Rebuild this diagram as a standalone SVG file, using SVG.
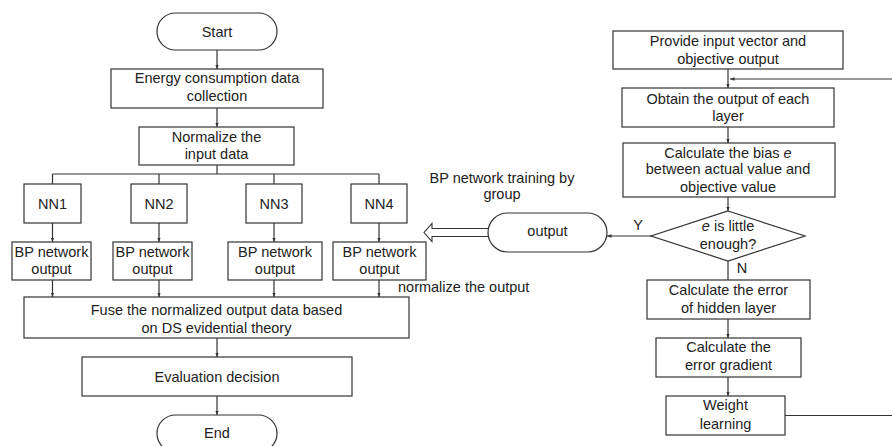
<svg xmlns="http://www.w3.org/2000/svg" width="892" height="446" viewBox="0 0 892 446">
<defs>
<style>
.box{fill:#fff;stroke:#333;stroke-width:1.2}
.ln{fill:none;stroke:#333;stroke-width:1.2}
text{font-family:"Liberation Sans",Arial,sans-serif;font-size:14.5px;fill:#222;text-anchor:middle}
.st{text-anchor:start}
</style>
<marker id="ah" viewBox="0 0 10 10" refX="10" refY="5" markerWidth="4.5" markerHeight="4.5" orient="auto" markerUnits="userSpaceOnUse">
<path d="M0,1 L10,5 L0,9 Z" fill="#333"/>
</marker>
</defs>
<rect width="892" height="446" fill="#fff"/>
<g id="connectors">
<line class="ln" x1="217" y1="50" x2="217" y2="69" marker-end="url(#ah)"/>
<line class="ln" x1="217" y1="108" x2="217" y2="127" marker-end="url(#ah)"/>
<line class="ln" x1="217" y1="165" x2="217" y2="174"/>
<line class="ln" x1="52.5" y1="174" x2="379" y2="174"/>
<line class="ln" x1="52.5" y1="174" x2="52.5" y2="184"/>
<line class="ln" x1="159" y1="174" x2="159" y2="184"/>
<line class="ln" x1="274" y1="174" x2="274" y2="184"/>
<line class="ln" x1="379" y1="174" x2="379" y2="184"/>
<line class="ln" x1="52.5" y1="223" x2="52.5" y2="242" marker-end="url(#ah)"/>
<line class="ln" x1="159" y1="223" x2="159" y2="242" marker-end="url(#ah)"/>
<line class="ln" x1="274" y1="223" x2="274" y2="242" marker-end="url(#ah)"/>
<line class="ln" x1="379" y1="223" x2="379" y2="242" marker-end="url(#ah)"/>
<line class="ln" x1="52.5" y1="280" x2="52.5" y2="297" marker-end="url(#ah)"/>
<line class="ln" x1="159" y1="280" x2="159" y2="297" marker-end="url(#ah)"/>
<line class="ln" x1="274" y1="280" x2="274" y2="297" marker-end="url(#ah)"/>
<line class="ln" x1="379" y1="280" x2="379" y2="297" marker-end="url(#ah)"/>
<line class="ln" x1="217" y1="338" x2="217" y2="357" marker-end="url(#ah)"/>
<line class="ln" x1="217" y1="396" x2="217" y2="415" marker-end="url(#ah)"/>
<line class="ln" x1="728" y1="69" x2="728" y2="88" marker-end="url(#ah)"/>
<line class="ln" x1="728" y1="127" x2="728" y2="143" marker-end="url(#ah)"/>
<line class="ln" x1="728" y1="197" x2="728" y2="211" marker-end="url(#ah)"/>
<line class="ln" x1="651" y1="236" x2="607" y2="236" marker-end="url(#ah)"/>
<line class="ln" x1="728" y1="261" x2="728" y2="280"/>
<line class="ln" x1="728" y1="319" x2="728" y2="338" marker-end="url(#ah)"/>
<line class="ln" x1="728" y1="377" x2="728" y2="396" marker-end="url(#ah)"/>
<path class="ln" d="M785,415.5 H896 V79 H730" marker-end="url(#ah)"/>
<path d="M488,228.5 H432 V223.5 L424,232.5 L432,241.5 V236.5 H488" fill="#fff" stroke="#333" stroke-width="1.1"/>
</g>
<g id="start"><rect class="box" x="157" y="13" width="120" height="37" rx="18.5"/><text x="217" y="37">Start</text></g>
<g id="energy"><rect class="box" x="111" y="69" width="212" height="39"/><text x="217" y="83">Energy consumption data</text><text x="217" y="101">collection</text></g>
<g id="normalize"><rect class="box" x="139" y="127" width="155" height="38"/><text x="216.5" y="141.5">Normalize the</text><text x="216.5" y="159">input data</text></g>
<g id="nn1"><rect class="box" x="24" y="184" width="57" height="39"/><text x="52.5" y="208.5">NN1</text></g>
<g id="nn2"><rect class="box" x="131" y="184" width="56" height="39"/><text x="159" y="208.5">NN2</text></g>
<g id="nn3"><rect class="box" x="246" y="184" width="56" height="39"/><text x="274" y="208.5">NN3</text></g>
<g id="nn4"><rect class="box" x="351" y="184" width="56" height="39"/><text x="379" y="208.5">NN4</text></g>
<g id="bp1"><rect class="box" x="12" y="242" width="79" height="38"/><text x="51.5" y="256.5">BP network</text><text x="51.5" y="273.5">output</text></g>
<g id="bp2"><rect class="box" x="113" y="242" width="79" height="38"/><text x="152.5" y="256.5">BP network</text><text x="152.5" y="273.5">output</text></g>
<g id="bp3"><rect class="box" x="228" y="242" width="94" height="38"/><text x="275" y="256.5">BP network</text><text x="275" y="273.5">output</text></g>
<g id="bp4"><rect class="box" x="333" y="242" width="93" height="38"/><text x="379.5" y="256.5">BP network</text><text x="379.5" y="273.5">output</text></g>
<g id="fuse"><rect class="box" x="24" y="297" width="385" height="41"/><text x="216.5" y="315">Fuse the normalized output data based</text><text x="216.5" y="333">on DS evidential theory</text></g>
<g id="evaluation"><rect class="box" x="82" y="357" width="270" height="39"/><text x="217" y="381.5">Evaluation decision</text></g>
<g id="end"><rect class="box" x="157" y="415" width="120" height="37" rx="18.5"/><text x="217" y="437.5">End</text></g>
<g id="provide"><rect class="box" x="613" y="31" width="230" height="38"/><text x="728" y="46">Provide input vector and</text><text x="728" y="63.5">objective output</text></g>
<g id="obtain"><rect class="box" x="622" y="88" width="212" height="39"/><text x="728" y="103.5">Obtain the output of each</text><text x="728" y="120.5">layer</text></g>
<g id="bias"><rect class="box" x="623" y="143" width="212" height="54"/><text x="728" y="157.5">Calculate the bias <tspan font-style="italic">e</tspan></text><text x="728" y="173.5">between actual value and</text><text x="728" y="191.5">objective value</text></g>
<g id="decision"><polygon class="box" points="728,211 805,236 728,261 651,236"/><text x="728" y="230.5"><tspan font-style="italic">e</tspan> is little</text><text x="728" y="249">enough?</text></g>
<g id="output"><rect class="box" x="488" y="213" width="119" height="39" rx="19.5"/><text x="547.5" y="236">output</text></g>
<g id="calcerror"><rect class="box" x="647" y="280" width="163" height="39"/><text x="728.5" y="295">Calculate the error</text><text x="728.5" y="312.5">of hidden layer</text></g>
<g id="gradient"><rect class="box" x="656" y="338" width="145" height="39"/><text x="728.5" y="352">Calculate the</text><text x="728.5" y="370">error gradient</text></g>
<g id="weight"><rect class="box" x="666" y="396" width="119" height="39"/><text x="725.5" y="410">Weight</text><text x="725.5" y="428.5">learning</text></g>
<g id="labels">
<text x="502" y="182.5">BP network training by</text>
<text x="502" y="198.5">group</text>
<text x="638" y="230">Y</text>
<text x="742" y="272.5">N</text>
<text class="st" x="398" y="291.5">normalize the output</text>
</g>
</svg>
